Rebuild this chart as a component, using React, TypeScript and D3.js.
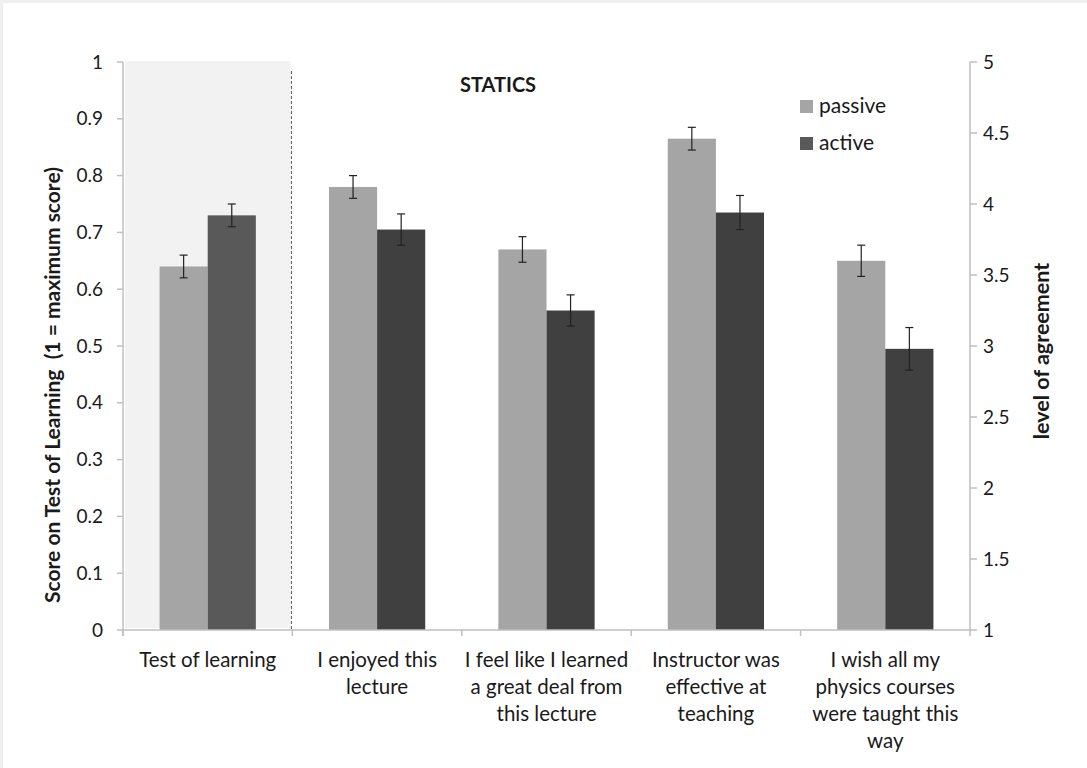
import React from "react";
import * as d3 from "d3";

const categories = [
  "Test of learning",
  "I enjoyed this lecture",
  "I feel like I learned a great deal from this lecture",
  "Instructor was effective at teaching",
  "I wish all my physics courses were taught this way",
];
const categoryLines = [
  ["Test of learning"],
  ["I enjoyed this", "lecture"],
  ["I feel like I learned", "a great deal from", "this lecture"],
  ["Instructor was", "effective at", "teaching"],
  ["I wish all my", "physics courses", "were taught this", "way"],
];
const series = ["passive", "active"];

// Test of learning (left axis, score 0-1)
const passiveScore = 0.64;
const activeScore = 0.73;
const passiveScoreErr = 0.02;
const activeScoreErr = 0.02;

// Survey items (right axis, level of agreement 1-5)
const passiveAgreement = [4.12, 3.68, 4.46, 3.6];
const activeAgreement = [3.82, 3.25, 3.94, 2.98];
const passiveAgreementErr = [0.08, 0.09, 0.08, 0.11];
const activeAgreementErr = [0.11, 0.11, 0.12, 0.15];

const leftTicks = [0, 0.1, 0.2, 0.3, 0.4, 0.5, 0.6, 0.7, 0.8, 0.9, 1];
const rightTicks = [1, 1.5, 2, 2.5, 3, 3.5, 4, 4.5, 5];

const W = 1087;
const H = 768;
const FONT = "Lato, 'Open Sans', sans-serif";

export default function App() {
  const x0 = 123;
  const x1 = 970;
  const yTop = 62;
  const yBot = 630;

  const x = d3.scaleBand<string>().domain(categories).range([x0, x1]).paddingInner(0).paddingOuter(0);
  const xs = d3.scaleBand<string>().domain(series).range([0, x.bandwidth()]).paddingInner(0).paddingOuter(0.76);
  const yL = d3.scaleLinear().domain([0, 1]).range([yBot, yTop]);
  const yR = d3.scaleLinear().domain([1, 5]).range([yBot, yTop]);

  type Bar = { cat: string; s: string; v: number; e: number; y: d3.ScaleLinear<number, number>; color: string };
  const bars: Bar[] = [];
  bars.push({ cat: categories[0], s: "passive", v: passiveScore, e: passiveScoreErr, y: yL, color: "#a5a5a5" });
  bars.push({ cat: categories[0], s: "active", v: activeScore, e: activeScoreErr, y: yL, color: "#595959" });
  passiveAgreement.forEach((v, i) => {
    bars.push({ cat: categories[i + 1], s: "passive", v, e: passiveAgreementErr[i], y: yR, color: "#a5a5a5" });
    bars.push({ cat: categories[i + 1], s: "active", v: activeAgreement[i], e: activeAgreementErr[i], y: yR, color: "#404040" });
  });

  const bw = xs.bandwidth();
  const shadeX0 = x0 + 2;
  const shadeX1 = (x(categories[1]) as number) - 2;
  const dashX = (x(categories[1]) as number) - 1;
  const axisColor = "#bfbfbf";
  const textColor = "#1a1a1a";

  return (
    <svg width={W} height={H} style={{ position: "absolute", left: 0, top: 0, background: "#fff" }}>
      <rect x={0} y={0} width={W} height={H} fill="#ffffff" />
      <rect x={0} y={0} width={W} height={3} fill="#efefef" />
      <rect x={0} y={0} width={3} height={H} fill="#efefef" />

      {/* shaded test region */}
      <rect x={shadeX0} y={yTop - 1} width={shadeX1 - shadeX0} height={yBot - yTop - 1} fill="#f2f2f2" />
      <line x1={dashX} x2={dashX} y1={71} y2={yBot} stroke="#555" strokeWidth={1} strokeDasharray="3,2" />

      {/* bars */}
      {bars.map((b, i) => {
        const bx = (x(b.cat) as number) + (xs(b.s) as number);
        const top = b.y(b.v);
        const cx = bx + bw / 2;
        return (
          <g key={i}>
            <rect x={bx} y={top} width={bw} height={yBot - top} fill={b.color} />
            <line x1={cx} x2={cx} y1={b.y(b.v + b.e)} y2={b.y(b.v - b.e)} stroke="#222" strokeWidth={1.2} />
            <line x1={cx - 4} x2={cx + 4} y1={b.y(b.v + b.e)} y2={b.y(b.v + b.e)} stroke="#222" strokeWidth={1.2} />
            <line x1={cx - 4} x2={cx + 4} y1={b.y(b.v - b.e)} y2={b.y(b.v - b.e)} stroke="#222" strokeWidth={1.2} />
          </g>
        );
      })}

      {/* left axis */}
      <line x1={x0} x2={x0} y1={yTop} y2={yBot + 6} stroke={axisColor} strokeWidth={1.5} />
      {leftTicks.map((t) => (
        <g key={"l" + t}>
          <line x1={x0 - 6} x2={x0} y1={yL(t)} y2={yL(t)} stroke={axisColor} strokeWidth={1.5} />
          <text x={103} y={yL(t)} dy="0.35em" textAnchor="end" fontFamily={FONT} fontSize={19} fill={textColor}>
            {d3.format("")(t)}
          </text>
        </g>
      ))}

      {/* right axis */}
      <line x1={x1} x2={x1} y1={yTop} y2={yBot + 6} stroke={axisColor} strokeWidth={1.5} />
      {rightTicks.map((t) => (
        <g key={"r" + t}>
          <line x1={x1} x2={x1 + 7} y1={yR(t)} y2={yR(t)} stroke={axisColor} strokeWidth={1.5} />
          <text x={983} y={yR(t)} dy="0.35em" textAnchor="start" fontFamily={FONT} fontSize={19} fill={textColor}>
            {d3.format("")(t)}
          </text>
        </g>
      ))}

      {/* bottom axis */}
      <line x1={x0} x2={x1} y1={yBot} y2={yBot} stroke={axisColor} strokeWidth={1.5} />
      {categories.map((c, i) => (
        <line key={"bt" + i} x1={x(c) as number} x2={x(c) as number} y1={yBot} y2={yBot + 6} stroke={axisColor} strokeWidth={1.5} />
      ))}
      {categories.map((c, i) => (
        <text key={"cl" + i} textAnchor="middle" fontFamily={FONT} fontSize={20.5} fill={textColor}>
          {categoryLines[i].map((ln, j) => (
            <tspan key={j} x={(x(c) as number) + x.bandwidth() / 2} y={667 + j * 27}>
              {ln}
            </tspan>
          ))}
        </text>
      ))}

      {/* title */}
      <text x={498} y={92} textAnchor="middle" fontFamily={FONT} fontWeight="bold" fontSize={20} fill={textColor}>
        STATICS
      </text>

      {/* legend */}
      {series.map((s, i) => (
        <g key={"lg" + s} transform={`translate(800, ${100 + i * 37})`}>
          <rect x={0} y={0} width={13} height={13} fill={s === "passive" ? "#a5a5a5" : "#595959"} />
          <text x={19} y={13} fontFamily={FONT} fontSize={21} fill={textColor}>
            {s}
          </text>
        </g>
      ))}

      {/* axis titles */}
      <text
        transform={`translate(60, ${385}) rotate(-90)`}
        textAnchor="middle"
        fontFamily={FONT}
        fontWeight="bold"
        fontSize={21}
        fill={textColor}
        style={{ whiteSpace: "pre" }}
      >
        {"Score on Test of Learning  (1 = maximum score)"}
      </text>
      <text
        transform={`translate(1049, ${351}) rotate(-90)`}
        textAnchor="middle"
        fontFamily={FONT}
        fontWeight="bold"
        fontSize={21.5}
        fill={textColor}
      >
        level of agreement
      </text>
    </svg>
  );
}
